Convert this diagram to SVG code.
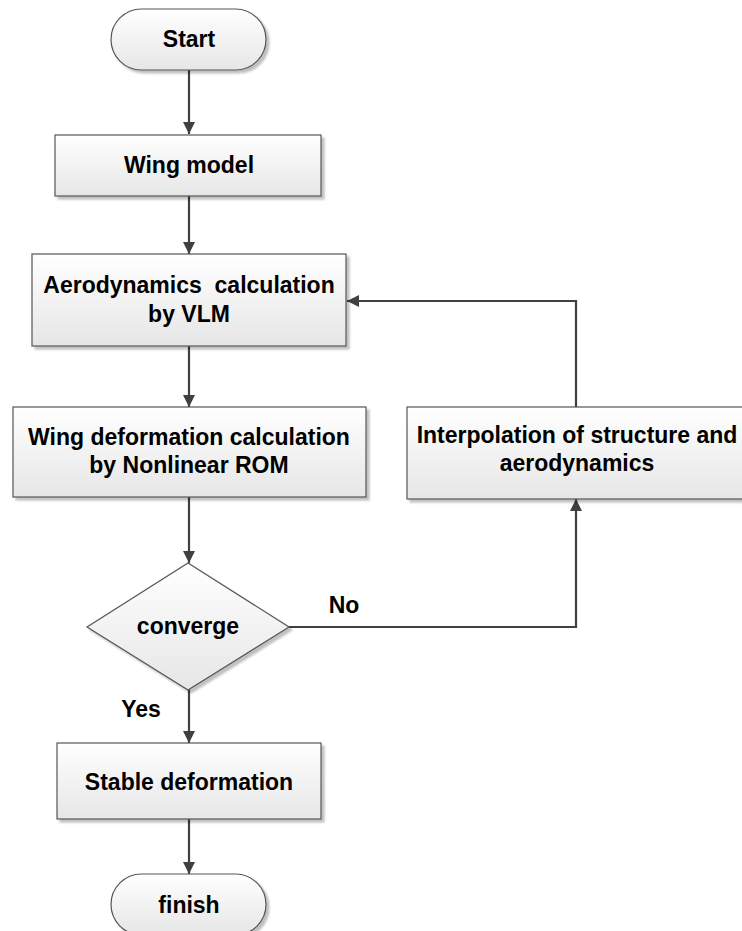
<svg xmlns="http://www.w3.org/2000/svg" width="742" height="931" viewBox="0 0 742 931">
<defs>
<linearGradient id="g" x1="0" y1="0" x2="0" y2="1">
<stop offset="0" stop-color="#ffffff"/>
<stop offset="1" stop-color="#e6e6e6"/>
</linearGradient>
<filter id="sh" x="-10%" y="-10%" width="130%" height="130%">
<feGaussianBlur in="SourceAlpha" stdDeviation="1.2"/>
<feOffset dx="3" dy="3" result="o"/>
<feComponentTransfer><feFuncA type="linear" slope="0.25"/></feComponentTransfer>
<feMerge><feMergeNode/><feMergeNode in="SourceGraphic"/></feMerge>
</filter>
<marker id="ah" markerWidth="12" markerHeight="12" viewBox="0 0 12 12" refX="12" refY="6" orient="auto" markerUnits="userSpaceOnUse">
<path d="M0,0 L12,6 L0,12 Z" fill="#404040"/>
</marker>
</defs>
<style>
.n{fill:url(#g);stroke:#555;stroke-width:1.2;filter:url(#sh)}
.t{font-family:"Liberation Sans",Arial,sans-serif;font-weight:bold;font-size:23px;fill:#000;text-anchor:middle}
.c{fill:none;stroke:#404040;stroke-width:2.2;marker-end:url(#ah)}
</style>
<rect width="742" height="931" fill="#fff"/>
<g id="connectors">
<line class="c" x1="189" y1="70" x2="189" y2="134"/>
<line class="c" x1="189" y1="196" x2="189" y2="254"/>
<line class="c" x1="189" y1="346" x2="189" y2="407"/>
<line class="c" x1="189" y1="497" x2="189" y2="563"/>
<line class="c" x1="189" y1="690" x2="189" y2="743"/>
<line class="c" x1="189" y1="819" x2="189" y2="874"/>
<polyline class="c" points="289,627 576,627 576,499"/>
<polyline class="c" points="576,407 576,301 347,301"/>
<text class="t" x="344" y="613">No</text>
<text class="t" x="141" y="717">Yes</text>
</g>
<g id="start">
<rect class="n" x="111" y="9" width="155" height="61" rx="30.5" ry="30.5"/>
<text class="t" x="189" y="47">Start</text>
</g>
<g id="wing-model">
<rect class="n" x="55" y="135" width="266" height="61"/>
<text class="t" x="189" y="173">Wing model</text>
</g>
<g id="aero">
<rect class="n" x="32" y="254" width="314" height="92"/>
<text class="t" x="189" y="293" xml:space="preserve">Aerodynamics  calculation</text>
<text class="t" x="189" y="322">by VLM</text>
</g>
<g id="wing-deformation">
<rect class="n" x="13" y="407" width="353" height="90"/>
<text class="t" x="189" y="445">Wing deformation calculation</text>
<text class="t" x="189" y="473">by Nonlinear ROM</text>
</g>
<g id="interpolation">
<rect class="n" x="407" y="407" width="342" height="92"/>
<text class="t" x="577" y="443">Interpolation of structure and</text>
<text class="t" x="577" y="471">aerodynamics</text>
</g>
<g id="converge">
<polygon class="n" points="188,563 289,627 188,690 87,627"/>
<text class="t" x="188" y="634">converge</text>
</g>
<g id="stable">
<rect class="n" x="57" y="743" width="264" height="76"/>
<text class="t" x="189" y="790">Stable deformation</text>
</g>
<g id="finish">
<rect class="n" x="111" y="874" width="155" height="61" rx="30.5" ry="30.5"/>
<text class="t" x="189" y="913">finish</text>
</g>
</svg>
